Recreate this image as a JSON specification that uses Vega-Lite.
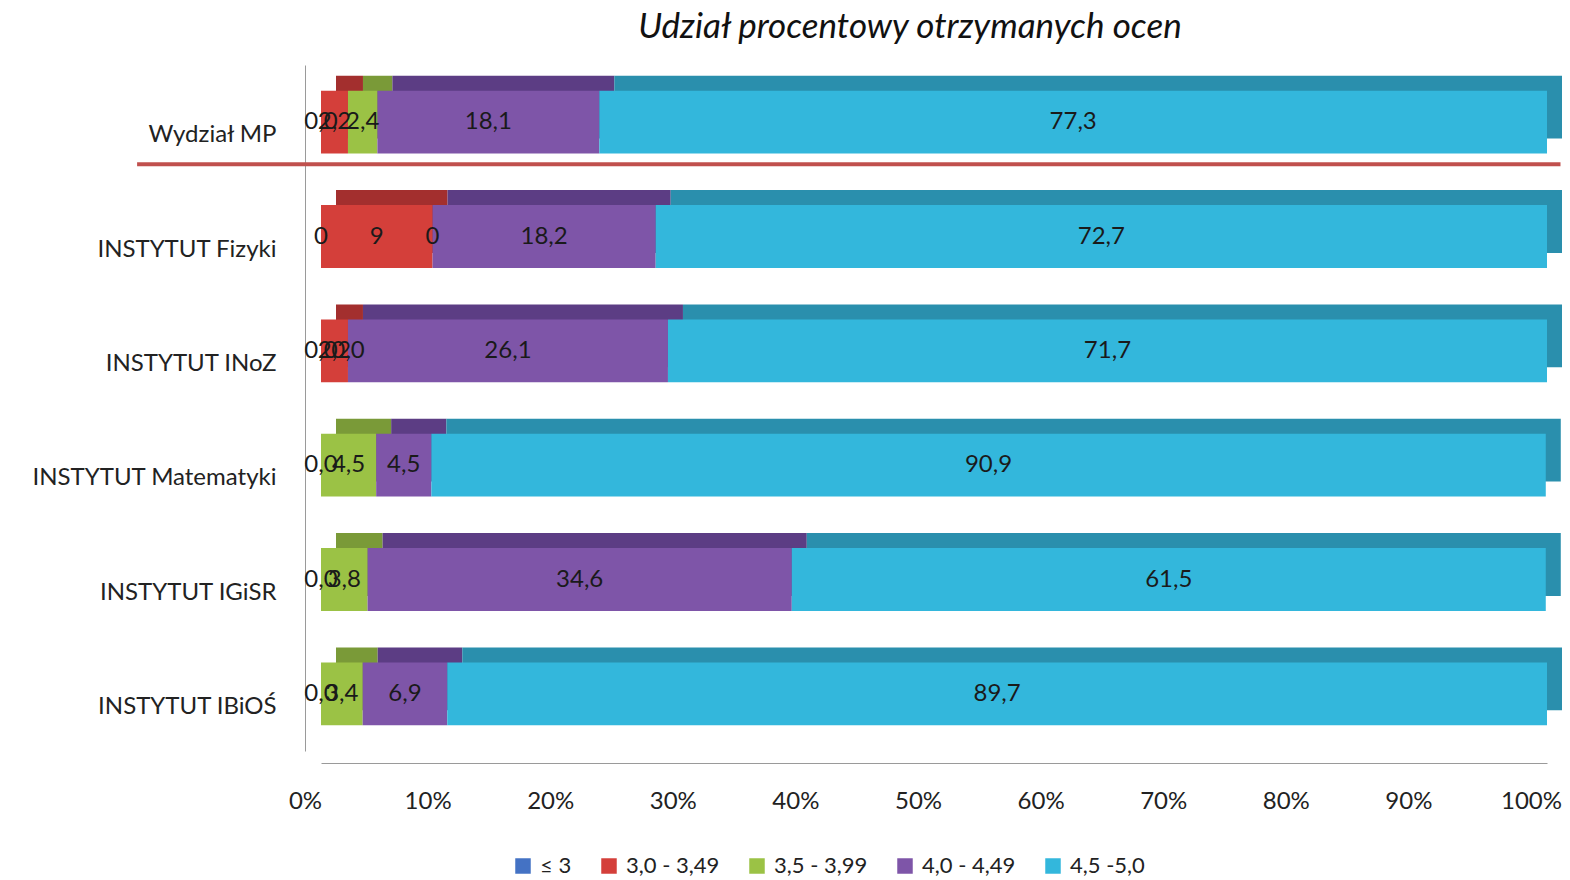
{
  "$schema": "https://vega.github.io/schema/vega-lite/v6.json",
  "autosize": {"type": "none"},
  "width": 1226,
  "height": 686,
  "padding": {"left": 321, "top": 65, "right": 23, "bottom": 129},
  "background": "white",
  "config": {"font": "Lato", "view": {"stroke": null}},
  "title": {"text": "Udział procentowy otrzymanych ocen", "fontSize": 35, "fontStyle": "italic", "fontWeight": "normal", "color": "#111111", "dx": -24, "offset": 20, "anchor": "middle", "font": "Lato"},
  "datasets": {
    "grades": [
      {"cat": "Wydział MP", "g": "≤ 3", "o": 1, "v": 0.0, "lbl": "0,0"},
      {"cat": "Wydział MP", "g": "3,0 - 3,49", "o": 2, "v": 2.2, "lbl": "2,2"},
      {"cat": "Wydział MP", "g": "3,5 - 3,99", "o": 3, "v": 2.4, "lbl": "2,4"},
      {"cat": "Wydział MP", "g": "4,0 - 4,49", "o": 4, "v": 18.1, "lbl": "18,1"},
      {"cat": "Wydział MP", "g": "4,5 -5,0", "o": 5, "v": 77.3, "lbl": "77,3"},
      {"cat": "INSTYTUT Fizyki", "g": "≤ 3", "o": 1, "v": 0.0, "lbl": "0"},
      {"cat": "INSTYTUT Fizyki", "g": "3,0 - 3,49", "o": 2, "v": 9.1, "lbl": "9"},
      {"cat": "INSTYTUT Fizyki", "g": "3,5 - 3,99", "o": 3, "v": 0.0, "lbl": "0"},
      {"cat": "INSTYTUT Fizyki", "g": "4,0 - 4,49", "o": 4, "v": 18.2, "lbl": "18,2"},
      {"cat": "INSTYTUT Fizyki", "g": "4,5 -5,0", "o": 5, "v": 72.7, "lbl": "72,7"},
      {"cat": "INSTYTUT INoZ", "g": "≤ 3", "o": 1, "v": 0.0, "lbl": "0,0"},
      {"cat": "INSTYTUT INoZ", "g": "3,0 - 3,49", "o": 2, "v": 2.2, "lbl": "2,2"},
      {"cat": "INSTYTUT INoZ", "g": "3,5 - 3,99", "o": 3, "v": 0.0, "lbl": "0,0"},
      {"cat": "INSTYTUT INoZ", "g": "4,0 - 4,49", "o": 4, "v": 26.1, "lbl": "26,1"},
      {"cat": "INSTYTUT INoZ", "g": "4,5 -5,0", "o": 5, "v": 71.7, "lbl": "71,7"},
      {"cat": "INSTYTUT Matematyki", "g": "≤ 3", "o": 1, "v": 0.0, "lbl": "0,0"},
      {"cat": "INSTYTUT Matematyki", "g": "3,0 - 3,49", "o": 2, "v": 0.0, "lbl": ""},
      {"cat": "INSTYTUT Matematyki", "g": "3,5 - 3,99", "o": 3, "v": 4.5, "lbl": "4,5"},
      {"cat": "INSTYTUT Matematyki", "g": "4,0 - 4,49", "o": 4, "v": 4.5, "lbl": "4,5"},
      {"cat": "INSTYTUT Matematyki", "g": "4,5 -5,0", "o": 5, "v": 90.9, "lbl": "90,9"},
      {"cat": "INSTYTUT IGiSR", "g": "≤ 3", "o": 1, "v": 0.0, "lbl": "0,0"},
      {"cat": "INSTYTUT IGiSR", "g": "3,0 - 3,49", "o": 2, "v": 0.0, "lbl": ""},
      {"cat": "INSTYTUT IGiSR", "g": "3,5 - 3,99", "o": 3, "v": 3.8, "lbl": "3,8"},
      {"cat": "INSTYTUT IGiSR", "g": "4,0 - 4,49", "o": 4, "v": 34.6, "lbl": "34,6"},
      {"cat": "INSTYTUT IGiSR", "g": "4,5 -5,0", "o": 5, "v": 61.5, "lbl": "61,5"},
      {"cat": "INSTYTUT IBiOŚ", "g": "≤ 3", "o": 1, "v": 0.0, "lbl": "0,0"},
      {"cat": "INSTYTUT IBiOŚ", "g": "3,0 - 3,49", "o": 2, "v": 0.0, "lbl": ""},
      {"cat": "INSTYTUT IBiOŚ", "g": "3,5 - 3,99", "o": 3, "v": 3.4, "lbl": "3,4"},
      {"cat": "INSTYTUT IBiOŚ", "g": "4,0 - 4,49", "o": 4, "v": 6.9, "lbl": "6,9"},
      {"cat": "INSTYTUT IBiOŚ", "g": "4,5 -5,0", "o": 5, "v": 89.7, "lbl": "89,7"}
    ],
    "sep": [{"cat": "Wydział MP", "x0": -15, "x1": 101.1}]
  },
  "data": {"name": "grades"},
  "layer": [
    {
      "mark": {"type": "bar", "xOffset": 15, "yOffset": -15},
      "encoding": {
        "y": {"field": "cat", "type": "nominal", "sort": ["Wydział MP", "INSTYTUT Fizyki", "INSTYTUT INoZ", "INSTYTUT Matematyki", "INSTYTUT IGiSR", "INSTYTUT IBiOŚ"], "scale": {"paddingInner": 0.45, "paddingOuter": 0.225},
          "axis": {"title": null, "ticks": false, "domain": true, "domainColor": "#9a9a9a", "offset": 16, "labelFontSize": 24, "labelColor": "#222222", "labelPadding": 29, "labelOffset": 13, "labelLimit": 400, "labelFont": "Lato"}},
        "x": {"field": "v", "type": "quantitative", "stack": "zero", "scale": {"domain": [0, 100]},
          "axis": {"title": null, "grid": false, "ticks": false, "offset": 12, "domainColor": "#9a9a9a", "values": [0, 10, 20, 30, 40, 50, 60, 70, 80, 90, 100], "labelExpr": "datum.value + '%'", "labelFontSize": 24, "labelColor": "#222222", "labelPadding": 26, "labelOffset": -16, "labelFlush": false, "labelFont": "Lato"}},
        "color": {"field": "g", "type": "nominal", "scale": {"domain": ["≤ 3", "3,0 - 3,49", "3,5 - 3,99", "4,0 - 4,49", "4,5 -5,0"], "range": ["#2F5597", "#A32F2E", "#7A9A38", "#5C3D84", "#2A8FAD"]}, "legend": null},
        "order": {"field": "o"}
      }
    },
    {
      "mark": {"type": "bar"},
      "encoding": {
        "y": {"field": "cat", "type": "nominal", "sort": ["Wydział MP", "INSTYTUT Fizyki", "INSTYTUT INoZ", "INSTYTUT Matematyki", "INSTYTUT IGiSR", "INSTYTUT IBiOŚ"]},
        "x": {"field": "v", "type": "quantitative", "stack": "zero"},
        "color": {"field": "g", "type": "nominal", "scale": {"domain": ["≤ 3", "3,0 - 3,49", "3,5 - 3,99", "4,0 - 4,49", "4,5 -5,0"], "range": ["#4472C4", "#D43F3A", "#9BC245", "#7E55A8", "#33B7DC"]},
          "legend": {"title": null, "orient": "none", "legendX": 191, "legendY": 790, "direction": "horizontal", "symbolType": "square", "symbolSize": 240, "labelFontSize": 22, "labelColor": "#222222", "columnPadding": 26, "labelOffset": 6, "labelFont": "Lato"}},
        "order": {"field": "o"}
      }
    },
    {
      "mark": {"type": "text", "fontSize": 24, "color": "#1a1a1a", "baseline": "middle", "font": "Lato"},
      "encoding": {
        "y": {"field": "cat", "type": "nominal", "sort": ["Wydział MP", "INSTYTUT Fizyki", "INSTYTUT INoZ", "INSTYTUT Matematyki", "INSTYTUT IGiSR", "INSTYTUT IBiOŚ"]},
        "x": {"field": "v", "type": "quantitative", "stack": "zero", "bandPosition": 0.5},
        "detail": {"field": "g"},
        "order": {"field": "o"},
        "text": {"field": "lbl"}
      }
    },
    {
      "data": {"name": "sep"},
      "mark": {"type": "rule", "color": "#C0504D", "strokeWidth": 4, "yOffset": 42},
      "encoding": {
        "y": {"field": "cat", "type": "nominal", "sort": ["Wydział MP", "INSTYTUT Fizyki", "INSTYTUT INoZ", "INSTYTUT Matematyki", "INSTYTUT IGiSR", "INSTYTUT IBiOŚ"]},
        "x": {"field": "x0", "type": "quantitative"},
        "x2": {"field": "x1"}
      }
    }
  ],
  "resolve": {"scale": {"color": "independent"}}
}
